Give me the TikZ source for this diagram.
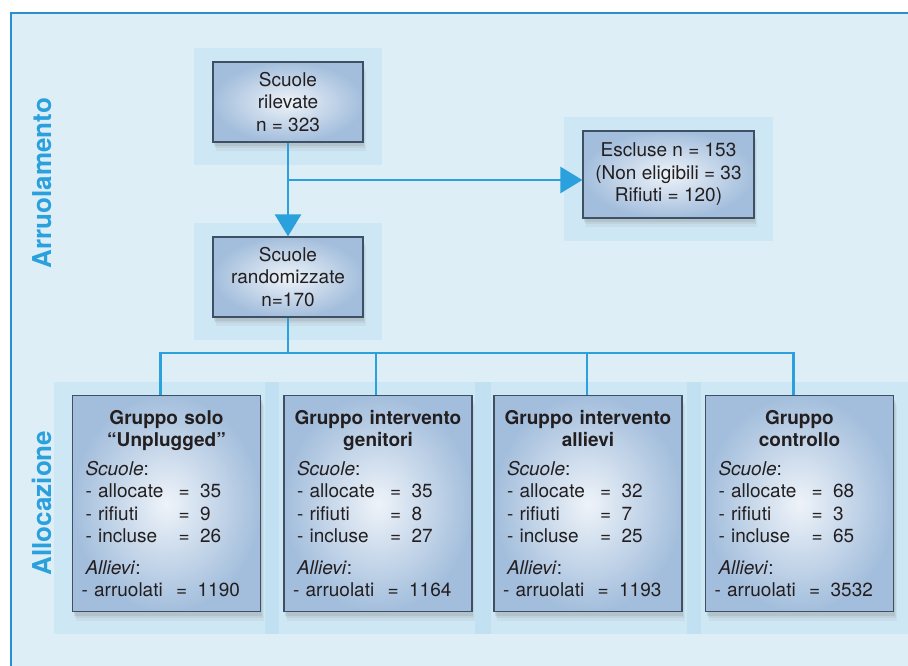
\documentclass[tikz,border=0pt]{standalone}
\usepackage{fontspec}
\setmainfont{TeX Gyre Heros}
\usetikzlibrary{arrows.meta,backgrounds,shadows}

\definecolor{paper}{HTML}{DDEEF7}
\definecolor{rulec}{HTML}{2A8FD0}
\definecolor{linkc}{HTML}{2AA0DC}
\definecolor{inkc}{HTML}{231F20}
\definecolor{boxin}{HTML}{EEF3F9}
\definecolor{boxout}{HTML}{A3BEDC}
\definecolor{boxedge}{HTML}{3F4F64}

\def\boxfont{\fontsize{19}{22.5}\selectfont}
\newcommand{\cnt}[2]{\makebox[4.9em][l]{- #1}=\hspace{0.55em}#2}
\newcommand{\grp}[6]{\centering\bfseries #1\\#2\par
	\raggedright\leftskip=4pt\mdseries\vspace{6pt}
	\textit{Scuole}:\\
	\cnt{allocate}{#3}\\
	\cnt{rifiuti}{#4}\\
	\cnt{incluse}{#5}\par\vspace{9pt}
	\textit{Allievi}:\\
	- arruolati\hspace{0.7em}=\hspace{0.55em}#6}

\tikzstyle{box}=[draw=boxedge,line width=1.2pt,shading=radial,inner color=boxin,outer color=boxout,
	drop shadow={shadow xshift=3pt,shadow yshift=-9pt,opacity=.08},
	drop shadow={shadow xshift=2pt,shadow yshift=-6pt,opacity=.12},
	drop shadow={shadow xshift=1pt,shadow yshift=-4pt,opacity=.18},
	text=inkc,font=\boxfont]
\tikzstyle{smallbox}=[box,align=center,minimum width=150pt,minimum height=80pt,inner sep=0pt]
\tikzstyle{grpbox}=[box,text width=170pt,inner xsep=9pt,inner ysep=0pt,minimum height=216pt,align=left,anchor=north]
\tikzstyle{panel}=[fill=linkc,fill opacity=0.08]
\tikzstyle{link}=[draw=linkc,line width=2.6pt]
\tikzstyle{tip}=[-{Triangle[length=22pt,width=26pt]}]
\tikzstyle{side}=[text=linkc,font=\fontsize{26}{30}\selectfont\bfseries,rotate=90]

\begin{document}
\begin{tikzpicture}[x=1pt,y=-1pt]
			\useasboundingbox (0,0) rectangle (908,666);
			\begin{scope}[on background layer]
				\fill[white] (0,0) rectangle (908,666);
				\fill[paper] (11,13) rectangle (908,666);
				\draw[rulec,line width=2pt] (11,666) -- (11,13) -- (908,13);
			\end{scope}
			\node[side] (arr) at (42,183) {Arruolamento};
			\node[side] (alloc) at (42,503) {Allocazione};
			% arruolamento
			\node[smallbox] (rilev) at (288,102) {Scuole\\rilevate\\n = 323};
			\node[smallbox] (random) at (288,277) {Scuole\\randomizzate\\n=170};
			\node[smallbox,minimum width=171pt,minimum height=87pt] (escl) at (668.5,174.5) {Escluse n = 153\\(Non eligibili = 33\\Rifiuti = 120)};
			\coordinate (split) at (288,180);
			\draw[link,tip] (rilev.south) -- (random.north);
			\draw[link,tip] (split) -- (split -| escl.west);
			% allocazione
			\node[grpbox] (g1) at (166.5,395) {\grp{Gruppo solo}{“Unplugged”}{35}{9}{26}{1190}};
			\node[grpbox] (g2) at (378,395) {\grp{Gruppo intervento}{genitori}{35}{8}{27}{1164}};
			\node[grpbox] (g3) at (588,395) {\grp{Gruppo intervento}{allievi}{32}{7}{25}{1193}};
			\node[grpbox] (g4) at (799.5,395) {\grp{Gruppo}{controllo}{68}{3}{65}{3532}};
			\coordinate (bus) at (288,353);
			\foreach \g/\dx in {g1/-6,g2/-2,g3/-1,g4/-6}
				\coordinate (\g-top) at ([xshift=\dx pt]\g.north);
			\draw[link] (random.south) -- (bus);
			\draw[link] (g1-top) -- (g1-top |- bus) -- (g4-top |- bus) -- (g4-top);
			\draw[link] (g2-top) -- (g2-top |- bus);
			\draw[link] (g3-top) -- (g3-top |- bus);
			\begin{scope}[on background layer]
				\foreach \n in {rilev,random,escl,g1,g2,g3,g4}
					\fill[panel] ([xshift=-18pt,yshift=13pt]\n.north west) rectangle ([xshift=18pt,yshift=-22pt]\n.south east);
			\end{scope}
		\end{tikzpicture}
\end{document}
